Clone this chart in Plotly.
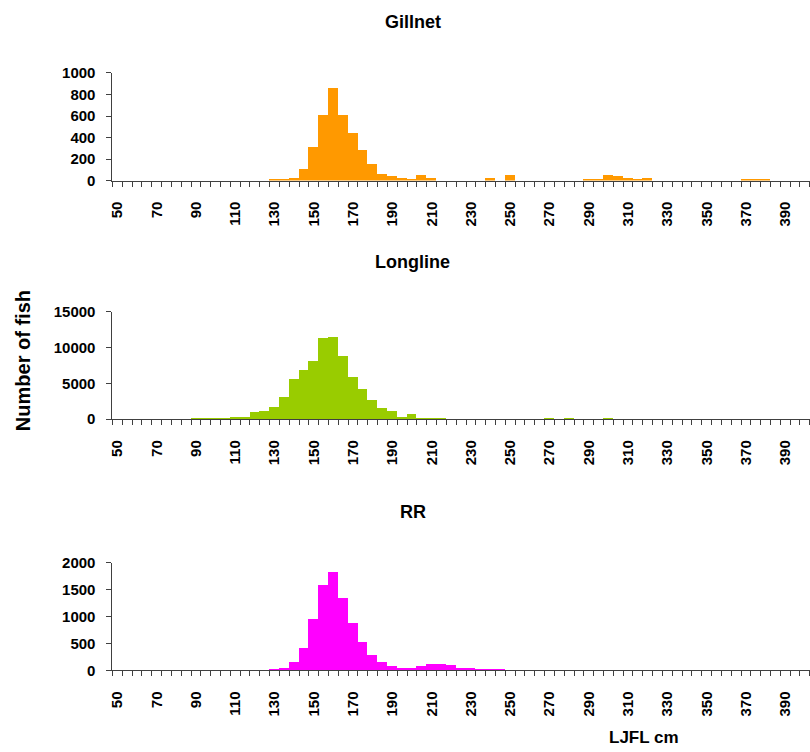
import plotly.graph_objects as go

# Length classes (cm), 5 cm bins
lengths = [50, 55, 60, 65, 70, 75, 80, 85, 90, 95, 100, 105, 110, 115, 120, 125,
           130, 135, 140, 145, 150, 155, 160, 165, 170, 175, 180, 185, 190, 195,
           200, 205, 210, 215, 220, 225, 230, 235, 240, 245, 250, 255, 260, 265,
           270, 275, 280, 285, 290, 295, 300, 305, 310, 315, 320, 325, 330, 335,
           340, 345, 350, 355, 360, 365, 370, 375, 380, 385, 390, 395, 400]

tick_values = [50, 70, 90, 110, 130, 150, 170, 190, 210, 230, 250, 270, 290,
               310, 330, 350, 370, 390]
tick_labels = ["50", "70", "90", "110", "130", "150", "170", "190", "210", "230",
               "250", "270", "290", "310", "330", "350", "370", "390"]

gillnet = [0, 0, 0, 0, 0, 0, 0, 0, 0, 0, 0, 0, 0, 0, 0, 0,
           15, 15, 22, 108, 310, 610, 860, 610, 443, 285, 155, 59, 40, 22,
           12, 50, 22, 0, 0, 0, 0, 0, 22, 0, 50, 0, 0, 0,
           0, 0, 0, 0, 12, 12, 50, 40, 22, 12, 22, 0, 0, 0,
           0, 0, 0, 0, 0, 0, 12, 12, 12, 0, 0, 0, 0]

longline = [0, 0, 0, 0, 0, 0, 0, 0, 140, 140, 140, 140, 280, 280, 980, 1120,
            1680, 3070, 5590, 6850, 8100, 11320, 11460, 8800, 5870, 4190, 2650, 1540, 1120, 280,
            700, 140, 140, 140, 0, 0, 0, 0, 0, 0, 0, 0, 0, 0,
            70, 0, 70, 0, 0, 0, 70, 0, 0, 0, 0, 0, 0, 0,
            0, 0, 0, 0, 0, 0, 0, 0, 0, 0, 0, 0, 0]

rr = [0, 0, 0, 0, 0, 0, 0, 0, 0, 0, 0, 0, 0, 0, 0, 0,
      25, 43, 155, 415, 954, 1585, 1827, 1344, 880, 526, 285, 155, 80, 43,
      43, 80, 118, 118, 99, 43, 43, 25, 25, 25, 0, 0, 0, 0,
      0, 0, 0, 0, 0, 0, 0, 0, 0, 0, 0, 0, 0, 0,
      0, 0, 0, 0, 0, 0, 0, 0, 0, 0, 0, 0, 0]

assert len(gillnet) == len(lengths) == len(longline) == len(rr)

titles = ["Gillnet", "Longline", "RR"]
colors = ["#FF9900", "#99CC00", "#FF00FF"]
y_ticks = [[0, 200, 400, 600, 800, 1000], [0, 5000, 10000, 15000], [0, 500, 1000, 1500, 2000]]
y_tick_text = [["0", "200", "400", "600", "800", "1000"],
               ["0", "5000", "10000", "15000"],
               ["0", "500", "1000", "1500", "2000"]]
y_max = [1000, 15000, 2000]
series = [gillnet, longline, rr]

W, H = 810, 752
FONT = "Arial, Liberation Sans, sans-serif"
AXC = "#404040"

# target pixel geometry of each panel: (top, bottom)
panels = [(71.7, 179.3), (310.7, 418.0), (561.7, 669.3)]
title_y = [21, 261, 511]
x_left = 109
cat_px = 9.87          # pixel width of one 5 cm class
px_per_cm = cat_px / 5
x_end = 47.5 + (W - x_left) / px_per_cm

def fx(px):
    return px / W

def fy(px):
    # small vertical correction observed in the rendered page
    req = (px - 7.7) / 0.9776
    return 1 - req / H

boundaries = [v - 2.5 for v in lengths] + [lengths[-1] + 2.5]

fig = go.Figure()
layout = dict(
    width=W, height=H,
    margin=dict(l=0, r=0, t=0, b=0),
    paper_bgcolor="white", plot_bgcolor="white",
    showlegend=False, bargap=0,
    annotations=[],
)

for i in range(3):
    xa = "x" if i == 0 else f"x{i+1}"
    ya = "y" if i == 0 else f"y{i+1}"
    fig.add_trace(go.Bar(x=lengths, y=series[i], width=5, marker_color=colors[i],
                         marker_line_width=0, xaxis=xa, yaxis=ya))
    top, bot = panels[i]
    xkey = "xaxis" if i == 0 else f"xaxis{i+1}"
    ykey = "yaxis" if i == 0 else f"yaxis{i+1}"
    layout[xkey] = dict(
        domain=[fx(x_left), 1.0], anchor=ya, range=[47.5, x_end],
        tickmode="array", tickvals=tick_values, ticktext=tick_labels,
        tickangle=-90, ticks="outside", ticklen=5, tickcolor="rgba(0,0,0,0)",
        ticklabelstandoff=9,
        tickfont=dict(family=FONT, size=15, color="black", weight="bold"),
        showline=True, linecolor=AXC, linewidth=1, showgrid=False, zeroline=False,
        minor=dict(tickmode="array", tickvals=boundaries, ticks="outside", ticklen=5,
                   tickcolor=AXC, tickwidth=1, showgrid=False),
    )
    layout[ykey] = dict(
        domain=[fy(bot), fy(top)], anchor=xa, range=[0, y_max[i]],
        tickmode="array", tickvals=y_ticks[i], ticktext=y_tick_text[i],
        ticks="outside", ticklen=5, tickcolor=AXC, tickwidth=1,
        ticklabelstandoff=8,
        tickfont=dict(family=FONT, size=15, color="black", weight="bold"),
        showline=True, linecolor=AXC, linewidth=1, showgrid=False, zeroline=False,
    )
    layout["annotations"].append(dict(
        text=titles[i], x=fx(411), y=fy(title_y[i]), xref="paper", yref="paper",
        xanchor="center", yanchor="middle", showarrow=False,
        font=dict(family=FONT, size=18, color="black", weight="bold")))

layout["annotations"].append(dict(
    text="Number of fish", x=fx(19), y=fy(359), xref="paper", yref="paper",
    xanchor="center", yanchor="middle", showarrow=False, textangle=-90,
    font=dict(family=FONT, size=20, color="black", weight="bold")))
layout["annotations"].append(dict(
    text="LJFL cm", x=fx(643), y=-0.007, xref="paper", yref="paper",
    xanchor="center", yanchor="bottom", showarrow=False,
    font=dict(family=FONT, size=17, color="black", weight="bold")))

fig.update_layout(**layout)
fig.write_html("out.html", config={"displayModeBar": False},
               post_script="document.body.style.margin='0';document.body.style.overflow='hidden';")
